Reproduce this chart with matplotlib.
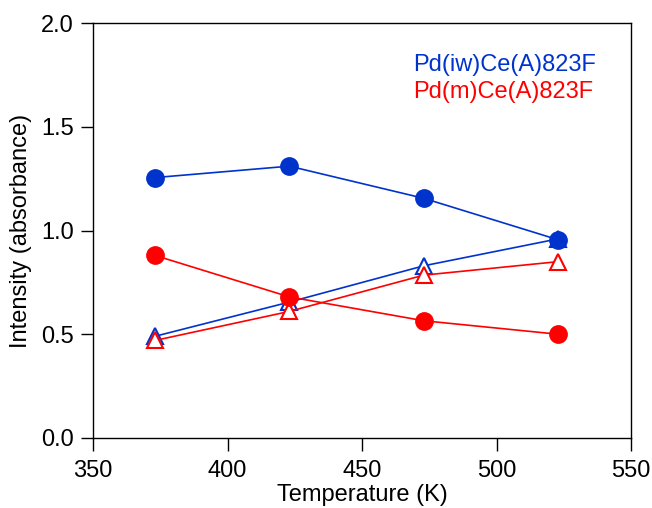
import matplotlib.pyplot as plt

plt.rcParams['font.family'] = ['Liberation Sans', 'DejaVu Sans']

temperature = [373, 423, 473, 523]

# Pd(iw)Ce(A)823F
iw_circle = [1.255, 1.31, 1.155, 0.955]
iw_triangle = [0.49, 0.655, 0.83, 0.96]
# Pd(m)Ce(A)823F
m_circle = [0.88, 0.68, 0.565, 0.50]
m_triangle = [0.47, 0.61, 0.785, 0.85]

blue = '#0033cc'
red = '#ff0000'

fig = plt.figure(figsize=(6.52, 5.08), dpi=100)
ax = fig.add_axes([93 / 652, 70 / 508, 538 / 652, 415 / 508])

ax.plot(temperature, iw_triangle, color=blue, lw=1.2, marker='^', ms=12,
        mfc='white', mec=blue, mew=1.5, zorder=2)
ax.plot(temperature, m_triangle, color=red, lw=1.2, marker='^', ms=12,
        mfc='white', mec=red, mew=1.5, zorder=3)
ax.plot(temperature, iw_circle, color=blue, lw=1.2, marker='o', ms=12.5,
        mfc=blue, mec=blue, zorder=4)
ax.plot(temperature, m_circle, color=red, lw=1.2, marker='o', ms=12.5,
        mfc=red, mec=red, zorder=5)

ax.text(469, 1.80, 'Pd(iw)Ce(A)823F', color=blue, fontsize=17, va='center')
ax.text(469, 1.667, 'Pd(m)Ce(A)823F', color=red, fontsize=17, va='center')

ax.set_xlim(350, 550)
ax.set_ylim(0, 2.0)
ax.set_xticks([350, 400, 450, 500, 550])
ax.set_yticks([0.0, 0.5, 1.0, 1.5, 2.0])
ax.set_yticklabels(['0.0', '0.5', '1.0', '1.5', '2.0'])
ax.tick_params(direction='out', length=9, width=1, labelsize=17)
ax.tick_params(axis='x', pad=7)
ax.tick_params(axis='y', pad=5)
for s in ax.spines.values():
    s.set_linewidth(1)
ax.set_xlabel('Temperature (K)', fontsize=17, labelpad=1)
ax.set_ylabel('Intensity (absorbance)', fontsize=17, labelpad=6)

fig.savefig('out.png', dpi=100)
